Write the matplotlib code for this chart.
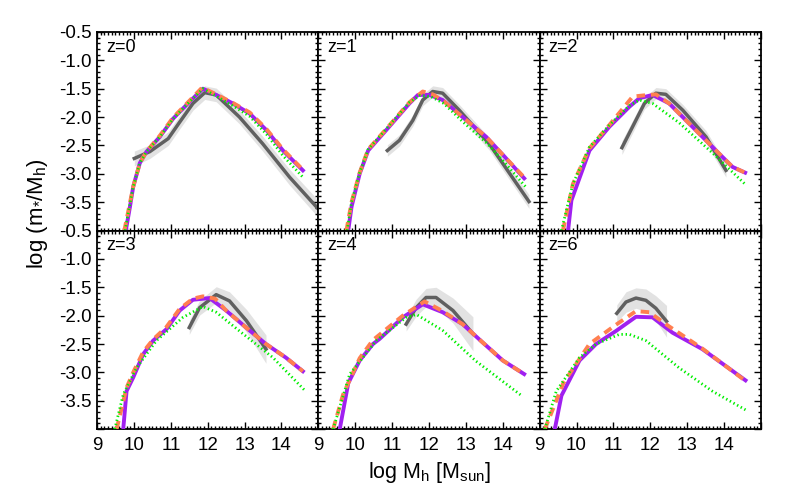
import matplotlib
matplotlib.use('Agg')
import matplotlib.pyplot as plt
from matplotlib.ticker import MultipleLocator

plt.rcParams['font.family'] = ['Liberation Sans', 'DejaVu Sans']
plt.rcParams['mathtext.fontset'] = 'custom'
plt.rcParams['mathtext.rm'] = 'Liberation Sans'
plt.rcParams['mathtext.it'] = 'Liberation Sans'
plt.rcParams['mathtext.default'] = 'regular'

# ***** DATA *****
redshifts = ['z=0', 'z=1', 'z=2', 'z=3', 'z=4', 'z=6']

# purple solid model
purple_x = [
    [9.78, 9.89, 9.98, 10.16, 10.34, 10.70, 11.06, 11.51, 11.87, 12.23, 12.68, 13.14, 13.59, 14.04, 14.58],
    [9.81, 9.90, 10.12, 10.35, 10.84, 11.47, 11.70, 12.01, 12.37, 12.91, 13.55, 14.05, 14.58],
    [9.77, 9.86, 10.35, 10.89, 11.43, 11.70, 12.06, 12.51, 13.23, 13.95, 14.23, 14.57],
    [9.71, 9.80, 9.98, 10.25, 10.52, 10.88, 11.24, 11.60, 12.05, 12.50, 13.04, 13.58, 14.12, 14.58],
    [9.58, 9.81, 10.12, 10.48, 10.66, 11.29, 11.83, 12.37, 12.91, 13.45, 14.00, 14.58],
    [9.41, 9.59, 10.08, 10.53, 11.07, 11.61, 12.06, 12.60, 13.41, 14.58],
]
purple_y = [
    [-4.00, -3.59, -3.23, -2.81, -2.61, -2.35, -2.03, -1.73, -1.50, -1.61, -1.76, -1.94, -2.23, -2.59, -2.94],
    [-4.00, -3.58, -3.00, -2.59, -2.23, -1.76, -1.61, -1.61, -1.70, -2.00, -2.35, -2.70, -3.08],
    [-4.00, -3.47, -2.59, -2.17, -1.82, -1.67, -1.61, -1.76, -2.23, -2.70, -2.88, -2.98],
    [-4.00, -3.33, -3.09, -2.68, -2.44, -2.24, -1.91, -1.72, -1.69, -1.91, -2.21, -2.50, -2.74, -2.98],
    [-4.00, -3.19, -2.79, -2.50, -2.41, -2.03, -1.80, -1.94, -2.15, -2.47, -2.79, -3.03],
    [-4.00, -3.41, -2.79, -2.50, -2.27, -2.02, -2.03, -2.30, -2.59, -3.14],
]

# orange dashed model
orange_x = [
    [9.74, 9.88, 9.98, 10.16, 10.34, 10.70, 11.06, 11.51, 11.85, 12.23, 12.68, 13.14, 13.59, 14.04, 14.58],
    [9.76, 9.90, 10.12, 10.35, 10.84, 11.47, 11.83, 12.10, 12.40, 12.91, 13.55, 14.05, 14.56],
    [9.63, 9.90, 10.35, 10.89, 11.52, 11.80, 12.15, 12.51, 13.23, 13.95, 14.23, 14.57],
    [9.53, 9.80, 9.98, 10.25, 10.52, 10.88, 11.24, 11.60, 11.87, 12.20, 12.50, 13.04, 13.58, 14.12, 14.58],
    [9.40, 9.67, 10.12, 10.48, 11.29, 11.88, 12.37, 12.91, 13.45, 14.00, 14.58],
    [9.14, 9.64, 10.35, 11.07, 11.61, 11.97, 12.51, 13.41, 14.58],
]
orange_y = [
    [-4.00, -3.55, -3.23, -2.81, -2.61, -2.33, -2.01, -1.71, -1.48, -1.60, -1.75, -1.92, -2.21, -2.57, -2.93],
    [-4.00, -3.50, -2.98, -2.57, -2.21, -1.74, -1.55, -1.60, -1.72, -2.00, -2.35, -2.70, -3.05],
    [-4.00, -3.18, -2.55, -2.14, -1.64, -1.62, -1.60, -1.76, -2.23, -2.70, -2.88, -2.98],
    [-4.00, -3.27, -3.00, -2.64, -2.42, -2.20, -1.88, -1.70, -1.66, -1.70, -1.91, -2.21, -2.50, -2.74, -2.98],
    [-4.00, -3.39, -2.75, -2.43, -2.00, -1.75, -1.92, -2.15, -2.47, -2.79, -3.03],
    [-4.00, -3.19, -2.50, -2.16, -1.92, -1.94, -2.19, -2.58, -3.15],
]

# green dotted model
green_x = [
    [9.76, 9.88, 9.98, 10.16, 10.34, 10.70, 11.06, 11.51, 11.87, 12.23, 12.68, 13.14, 13.59, 14.04, 14.58],
    [9.78, 9.90, 10.12, 10.35, 10.84, 11.47, 11.75, 12.05, 12.40, 12.91, 13.55, 14.05, 14.62],
    [9.59, 9.90, 10.35, 10.89, 11.43, 11.70, 12.06, 12.78, 13.68, 14.58],
    [9.48, 9.71, 10.07, 10.61, 11.33, 11.87, 12.23, 12.86, 13.77, 14.62],
    [9.40, 9.85, 10.57, 11.38, 11.66, 12.37, 13.27, 14.53],
    [9.14, 9.45, 10.08, 10.53, 11.16, 11.43, 11.88, 12.78, 13.68, 14.58],
]
green_y = [
    [-4.00, -3.57, -3.23, -2.81, -2.61, -2.35, -2.03, -1.73, -1.50, -1.63, -1.80, -1.99, -2.30, -2.68, -3.06],
    [-4.00, -3.50, -2.98, -2.57, -2.21, -1.74, -1.62, -1.64, -1.76, -2.08, -2.45, -2.80, -3.23],
    [-4.00, -3.18, -2.53, -2.14, -1.80, -1.70, -1.76, -2.10, -2.63, -3.19],
    [-4.00, -3.39, -2.92, -2.44, -2.03, -1.84, -1.94, -2.27, -2.74, -3.31],
    [-4.00, -3.03, -2.44, -2.03, -1.98, -2.26, -2.80, -3.42],
    [-4.00, -3.33, -2.74, -2.50, -2.33, -2.33, -2.44, -2.92, -3.33, -3.66],
]

# grey observational relation with its scatter
obs_x = [
    [10.01, 10.43, 10.93, 11.24, 11.60, 11.92, 12.23, 12.86, 13.49, 14.22, 15.00],
    [10.87, 11.20, 11.56, 11.83, 12.10, 12.37, 12.82, 13.63, 14.71],
    [11.23, 11.52, 11.84, 12.15, 12.42, 12.88, 13.51, 14.05],
    [11.50, 11.78, 12.23, 12.59, 13.05, 13.58],
    [11.38, 11.65, 11.92, 12.19, 12.65, 13.19],
    [11.09, 11.34, 11.61, 11.88, 12.15, 12.44],
]
obs_y = [
    [-2.73, -2.61, -2.38, -2.09, -1.76, -1.57, -1.61, -2.00, -2.47, -3.06, -3.62],
    [-2.59, -2.41, -2.06, -1.70, -1.55, -1.58, -1.88, -2.47, -3.49],
    [-2.54, -2.17, -1.76, -1.58, -1.60, -1.88, -2.35, -2.94],
    [-2.21, -1.86, -1.63, -1.74, -2.09, -2.59],
    [-2.15, -1.86, -1.68, -1.68, -1.91, -2.32],
    [-1.96, -1.76, -1.69, -1.73, -1.87, -2.10],
]
obs_err = [
    [0.13, 0.12, 0.12, 0.12, 0.12, 0.12, 0.12, 0.12, 0.13, 0.14, 0.15],
    [0.10, 0.10, 0.10, 0.10, 0.10, 0.10, 0.10, 0.11, 0.12],
    [0.12, 0.11, 0.10, 0.10, 0.10, 0.10, 0.11, 0.12],
    [0.12, 0.13, 0.14, 0.16, 0.20, 0.25],
    [0.12, 0.15, 0.16, 0.18, 0.22, 0.30],
    [0.15, 0.18, 0.18, 0.20, 0.22, 0.28],
]

# ***** GRAPHING *****
fig, axes = plt.subplots(2, 3, figsize=(7.89, 4.91), dpi=100, sharex=True, sharey=True)
fig.subplots_adjust(left=0.123, right=0.9645, top=0.935, bottom=0.126, wspace=0, hspace=0)

for i, ax in enumerate(axes.flat):
    lo = [y - e for y, e in zip(obs_y[i], obs_err[i])]
    hi = [y + e for y, e in zip(obs_y[i], obs_err[i])]
    ax.fill_between(obs_x[i], lo, hi, color='#e2e2e2', lw=0, zorder=1)
    ax.plot(obs_x[i], obs_y[i], color='#606060', lw=2.5, zorder=2)
    ax.plot(purple_x[i], purple_y[i], color='#a020f0', lw=2.8, zorder=3)
    ax.plot(orange_x[i], orange_y[i], color='#ff7f50', lw=2.8, ls=(0, (2.2, 1.5)), zorder=4)
    ax.plot(green_x[i], green_y[i], color='#00ee00', lw=2.0, ls=(0, (0.5, 1.0)), zorder=5)

    ax.text(0.04, 0.965, redshifts[i], transform=ax.transAxes, ha='left', va='top', fontsize=13)

    ax.set_xlim(9, 15)
    ax.set_ylim(-4.0, -0.5)
    ax.set_xticks(range(9, 16))
    ax.set_yticks([-4.0, -3.5, -3.0, -2.5, -2.0, -1.5, -1.0, -0.5])
    ax.xaxis.set_minor_locator(MultipleLocator(0.1))
    ax.yaxis.set_minor_locator(MultipleLocator(0.1))
    ax.tick_params(which='both', direction='in', top=True, right=True, labelsize=13.5, width=1.0)
    ax.tick_params(which='major', length=5)
    ax.tick_params(which='minor', length=2.5)
    ax.tick_params(axis='x', pad=6)
    ax.tick_params(axis='y', pad=4)
    for sp in ax.spines.values():
        sp.set_linewidth(1.3)

for ax in axes[1, :]:
    ax.set_xticklabels(['9', '10', '11', '12', '13', '14', ''])
for ax in axes[:, 0]:
    ax.set_yticklabels(['', '-3.5', '-3.0', '-2.5', '-2.0', '-1.5', '-1.0', '-0.5'])

fig.text(0.545, 0.038, 'log M$_{h}$ [M$_{sun}$]', ha='center', va='center', fontsize=15.5)
fig.text(0.048, 0.565, 'log (m$_{*}$/M$_{h}$)', ha='center', va='center', rotation=90, fontsize=16)

fig.savefig('out.png', dpi=100)
